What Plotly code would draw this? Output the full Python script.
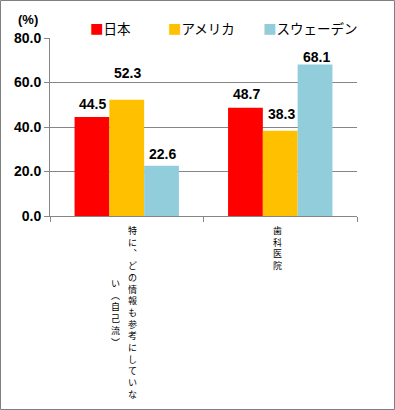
import plotly.graph_objects as go

categories = ["特に、どの情報も参考にしていない(自己流)", "歯科医院"]
series_names = ["日本", "アメリカ", "スウェーデン"]
japan = [44.5, 48.7]
usa = [52.3, 38.3]
sweden = [22.6, 68.1]
colors = ["#FF0000", "#FFC000", "#92CDDC"]
y_ticks = [0, 20, 40, 60, 80]
y_tick_labels = ["0.0", "20.0", "40.0", "60.0", "80.0"]
y_unit = "(%)"

# style: lift (px) of each data label centre above its bar top, per series
label_lift = [[13, 13.5], [26.5, 17], [12, 7.5]]

W, H = 395, 410
L, R, T, B = 50, 38, 38, 194
pw, ph = W - L - R, H - T - B
bargap = 0.32


def px_x(p):
    return (p - L) / pw


def px_y(p):
    return (H - B - p) / ph


fig = go.Figure()
series = [japan, usa, sweden]
for name, vals, col in zip(series_names, series, colors):
    fig.add_trace(go.Bar(
        x=categories, y=vals, name=name, marker_color=col,
        marker_line_width=0, showlegend=False,
    ))

# data labels
bar_w = pw / len(categories) * (1 - bargap) / len(series)
for i, vals in enumerate(series):
    for j, (cat, v) in enumerate(zip(categories, vals)):
        fig.add_annotation(
            x=cat, y=v, xref="x", yref="y", text=f"<b>{v:.1f}</b>", showarrow=False,
            xanchor="center", yanchor="middle",
            xshift=(i - (len(series) - 1) / 2) * bar_w + 1, yshift=label_lift[i][j],
            font=dict(size=14, color="black", family="Liberation Sans"),
        )

# legend drawn as text entries with coloured squares
legend_x = [88, 166, 261]
for name, col, lx in zip(series_names, colors, legend_x):
    fig.add_annotation(
        x=px_x(lx), y=px_y(28), xref="paper", yref="paper", showarrow=False,
        xanchor="left", yanchor="middle",
        text=f"<span style='color:{col}'>■</span>{name}",
        font=dict(size=13.5, color="black", family="Noto Sans CJK JP"),
    )

# vertical category labels
vert = {"、": "︑", "(": "︵", ")": "︶", "（": "︵", "）": "︶"}
col_len = 15
fsize = 9
pitch = fsize * 1.3
col_gap = 17
for cat in categories:
    chars = [vert.get(c, c) for c in cat]
    cols = [chars[i:i + col_len] for i in range(0, len(chars), col_len)]
    n = len(cols)
    for j, colchars in enumerate(cols):
        xs = (n - 1 - 2 * j) * col_gap / 2 - 2.5
        off = (len(cols[0]) - len(colchars)) / 2 * pitch
        fig.add_annotation(
            x=cat, y=px_y(222 + off), xref="x", yref="paper", text="<br>".join(colchars),
            showarrow=False, xanchor="center", yanchor="top", xshift=xs,
            font=dict(size=fsize, color="black", family="Noto Sans CJK JP"),
        )

fig.add_annotation(x=px_x(28), y=px_y(20), xref="paper", yref="paper",
                   text=f"<b>{y_unit}</b>", showarrow=False,
                   xanchor="center", yanchor="middle",
                   font=dict(size=13, color="black", family="Liberation Sans"))

# outer frame
fig.add_shape(type="rect", xref="paper", yref="paper",
              x0=px_x(0.5), x1=px_x(W - 0.5), y0=px_y(H - 0.5), y1=px_y(0.5),
              line=dict(color="#7F7F7F", width=1))

fig.update_layout(
    width=W, height=H, margin=dict(l=L, r=R, t=T, b=B, autoexpand=False),
    paper_bgcolor="white", plot_bgcolor="white",
    barmode="group", bargap=bargap, bargroupgap=0,
    font=dict(family="Liberation Sans", color="black"),
    showlegend=False,
)
fig.update_xaxes(showticklabels=False, showline=True, linecolor="#868686",
                 ticks="outside", tickson="boundaries", ticklen=5, tickcolor="#868686",
                 showgrid=False, automargin=False)
fig.update_yaxes(range=[0, 80], tickvals=y_ticks, ticktext=[f"<b>{t}</b>" for t in y_tick_labels],
                 showline=True, linecolor="#868686", ticks="outside", ticklen=5,
                 tickcolor="#868686", showgrid=True, gridcolor="#868686", gridwidth=1,
                 tickfont=dict(size=14, family="Liberation Sans"), zeroline=False,
                 automargin=False)

fig.write_html("out.html", config={"displayModeBar": False},
               post_script="document.body.style.margin='0';")
